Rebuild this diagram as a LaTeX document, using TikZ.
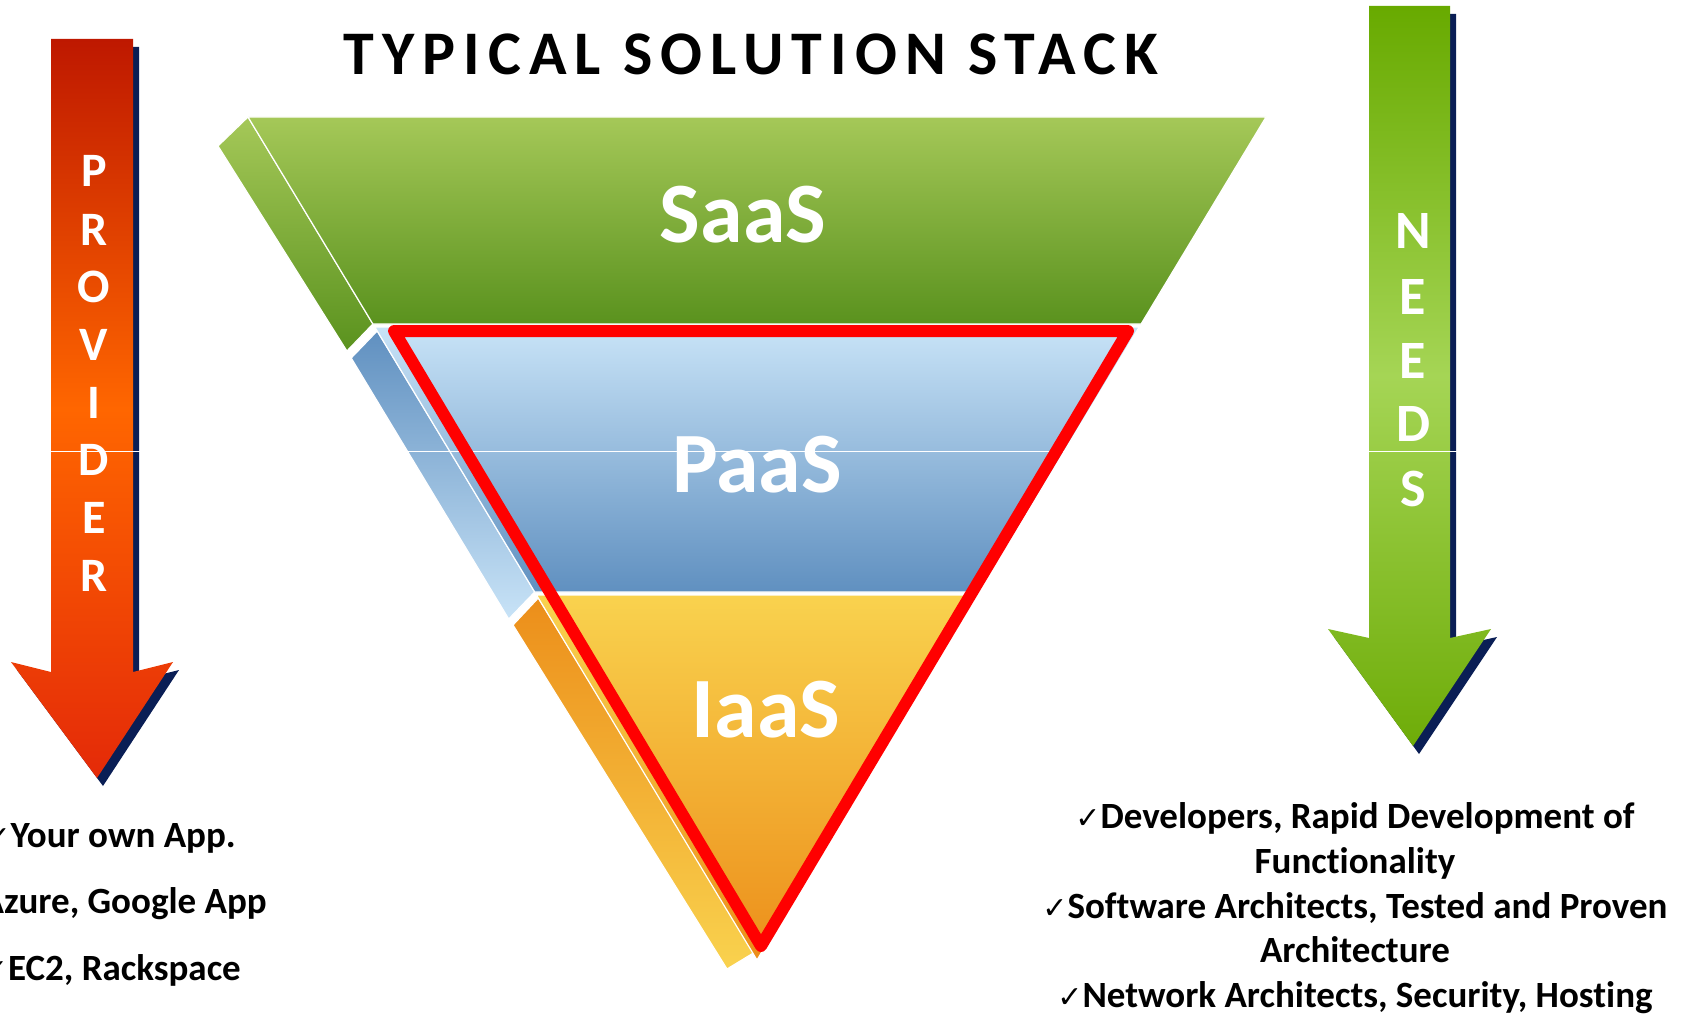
\documentclass[tikz,border=0pt]{standalone}
\usepackage{fontspec}
\setmainfont{Carlito}[Ligatures={NoCommon}]
\newfontfamily\symfont{DejaVu Sans}
\newfontfamily\titlefont[LetterSpace=13,Ligatures={NoCommon}]{Carlito}
\definecolor{navy}{RGB}{10,30,85}
\definecolor{provTop}{RGB}{190,24,0}
\definecolor{provMid}{RGB}{255,102,0}
\definecolor{provBot}{RGB}{228,42,8}
\definecolor{needTop}{RGB}{104,170,0}
\definecolor{needMid}{RGB}{165,213,85}
\definecolor{needBot}{RGB}{110,172,8}
\definecolor{saasTop}{RGB}{165,200,88}
\definecolor{saasBot}{RGB}{90,146,30}
\definecolor{paasTop}{RGB}{200,227,247}
\definecolor{paasBot}{RGB}{96,144,192}
\definecolor{iaasTop}{RGB}{249,210,78}
\definecolor{iaasBot}{RGB}{236,142,26}
\definecolor{redline}{RGB}{255,0,0}
\newcommand{\mychk}{{\symfont\fontsize{30}{30}\selectfont ✓}}
\tikzset{
  face/.style={draw=white, line width=1.2pt},
  layerlbl/.style={text=white, anchor=base, inner sep=0pt, font=\bfseries\fontsize{86}{86}\selectfont},
  provletter/.style={text=white, anchor=base, inner sep=0pt, font=\bfseries\fontsize{48}{48}\selectfont},
  needletter/.style={text=white, anchor=base, inner sep=0pt, font=\bfseries\fontsize{54}{54}\selectfont},
  bullet/.style={text=black, inner sep=0pt, font=\bfseries\fontsize{37}{37}\selectfont},
}
\begin{document}
\begin{tikzpicture}[x=1pt,y=-1pt]
\useasboundingbox (0,0) rectangle (1693,1016);
\clip (0,0) rectangle (1693,1016);

% ---------- PROVIDER arrow ----------
\fill[navy, shift={(6,8)}] (51,39) -- (133,39) -- (133,672) -- (173,662) -- (97,778) -- (11,662) -- (51,672) -- cycle;
\path[top color=provTop, bottom color=provBot, middle color=provMid]
  (51,39) -- (133,39) -- (133,672) -- (173,662) -- (97,778) -- (11,662) -- (51,672) -- cycle;

% ---------- NEEDS arrow ----------
\fill[navy, shift={(6,8)}] (1369,6) -- (1450,6) -- (1450,638) -- (1491,629) -- (1413,746) -- (1328,629) -- (1369,638) -- cycle;
\path[top color=needTop, bottom color=needBot, middle color=needMid]
  (1369,6) -- (1450,6) -- (1450,638) -- (1491,629) -- (1413,746) -- (1328,629) -- (1369,638) -- cycle;

% ---------- side strips ----------
\path[face, top color=saasTop, bottom color=saasBot]
  (248,117) -- (372.9,324) -- (346.9,351) -- (218,146) -- cycle;
\path[face, top color=paasBot, bottom color=paasTop]
  (377.2,331) -- (534.7,592) -- (508.7,619) -- (351.2,358) -- cycle;
\path[face, top color=iaasBot, bottom color=iaasTop]
  (538.3,598) -- (755,952) -- (727,969) -- (513,625) -- cycle;

% ---------- faces ----------
\path[face, top color=saasTop, bottom color=saasBot]
  (248,117) -- (1266,117) -- (1141.1,324) -- (372.9,324) -- cycle;
\path[face, top color=paasTop, bottom color=paasBot]
  (374.8,327) -- (1139.2,327) -- (979.3,592) -- (534.7,592) -- cycle;
\path[face, top color=iaasTop, bottom color=iaasBot]
  (536.5,595) -- (977.5,595) -- (757,960) -- cycle;

% thin white scan line across the picture
\draw[white, line width=1pt] (0,451) -- (1693,451);

% ---------- red outline ----------
\draw[redline, line width=12pt, line join=round] (394,331) -- (1128,331) -- (761,946) -- cycle;

% ---------- layer labels ----------
\node[layerlbl] (saas) at (743,243) {SaaS};
\node[layerlbl] (paas) at (757,492) {PaaS};
\node[layerlbl] (iaas) at (766,737) {IaaS};

% ---------- title ----------
\node[anchor=base, inner sep=0pt, font=\titlefont\bfseries\fontsize{62}{62}\selectfont] (title) at (751,75) {TYPICAL SOLUTION STACK};

% ---------- PROVIDER letters ----------
\node[provletter] (p1) at (94,187) {P};
\node[provletter] (p2) at (94,245) {R};
\node[provletter] (p3) at (94,302) {O};
\node[provletter] (p4) at (94,360) {V};
\node[provletter] (p5) at (94,418) {I};
\node[provletter] (p6) at (94,475) {D};
\node[provletter] (p7) at (94,533) {E};
\node[provletter] (p8) at (94,591) {R};

% ---------- NEEDS letters ----------
\node[needletter] (n1) at (1413,249) {N};
\node[needletter] (n2) at (1413,314) {E};
\node[needletter] (n3) at (1413,378) {E};
\node[needletter] (n4) at (1413,441) {D};
\node[needletter] (n5) at (1413,506) {S};

% ---------- left list ----------
\node[bullet, anchor=base east] (l1) at (236,847) {\mychk Your own App.};
\node[bullet, anchor=base east] (l2) at (267,913) {Azure, Google App};
\node[bullet, anchor=base east] (l3) at (241,980) {\mychk EC2, Rackspace};

% ---------- right list ----------
\node[bullet, anchor=base] (r1) at (1355,828) {\mychk Developers, Rapid Development of};
\node[bullet, anchor=base] (r2) at (1355,873) {Functionality};
\node[bullet, anchor=base] (r3) at (1355,918) {\mychk Software Architects, Tested and Proven};
\node[bullet, anchor=base] (r4) at (1355,962) {Architecture};
\node[bullet, anchor=base] (r5) at (1355,1007) {\mychk Network Architects, Security, Hosting};
\end{tikzpicture}
\end{document}
